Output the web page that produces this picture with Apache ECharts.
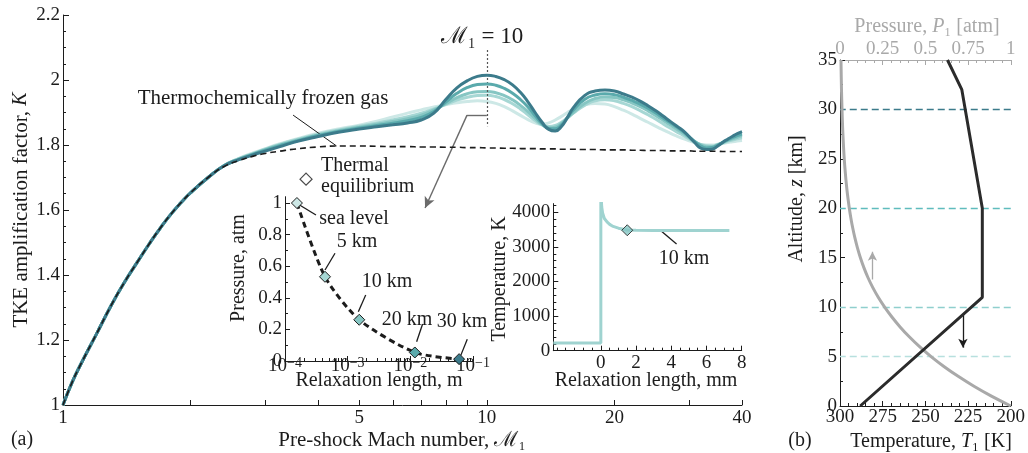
<!DOCTYPE html>
<html>
<head>
<meta charset="utf-8">
<script src="https://cdn.jsdelivr.net/npm/echarts@6/dist/echarts.min.js"></script>
<style>
  html, body { margin: 0; padding: 0; background: #ffffff; }
  #chart { width: 1028px; height: 453px; }
</style>
</head>
<body>
<div id="chart"></div>
<script>
// ---------- (a) TKE amplification factor vs pre-shock Mach number ----------
// Below M = 2.2 all altitudes share one curve with the frozen-gas result.
const MACH_LOW = [1, 1.05, 1.1, 1.2, 1.3, 1.4, 1.5, 1.6, 1.7, 1.8, 1.9, 2, 2.2];
const K_LOW    = [1.000, 1.069, 1.124, 1.219, 1.307, 1.380, 1.441, 1.497, 1.546, 1.588, 1.623, 1.653, 1.700];

const MACH_HIGH = [2.4, 2.6, 2.8, 3, 3.25, 3.5, 4, 4.5, 5, 5.5, 6, 6.5, 7, 7.5, 8, 8.5, 9, 9.5, 10,
                   10.5, 11, 11.5, 12, 12.5, 13, 13.5, 14, 14.5, 15, 15.5, 16,
                   17, 18, 19, 20, 21, 22, 23, 24, 25, 26, 27, 28, 29, 30, 31, 32, 33, 34, 35, 36, 37, 38, 39, 40];

const K_SEA_LEVEL = [1.737, 1.759, 1.775, 1.789, 1.804, 1.816,
  1.836, 1.850, 1.861, 1.873, 1.886, 1.898, 1.908, 1.917, 1.924, 1.930, 1.934, 1.936, 1.934,
  1.928, 1.918, 1.905, 1.891, 1.878, 1.868, 1.864, 1.868, 1.877, 1.888, 1.900, 1.910,
  1.923, 1.928, 1.926, 1.918, 1.907, 1.895, 1.882, 1.870, 1.858, 1.847, 1.837, 1.828, 1.820, 1.813,
  1.807, 1.802, 1.800, 1.800, 1.802, 1.805, 1.808, 1.810, 1.812, 1.814];
const K_5KM = [1.737, 1.758, 1.773, 1.787, 1.802, 1.814,
  1.833, 1.847, 1.858, 1.867, 1.877, 1.887, 1.898, 1.911, 1.925, 1.938, 1.947, 1.952, 1.953,
  1.949, 1.940, 1.927, 1.911, 1.893, 1.875, 1.862, 1.857, 1.860, 1.870, 1.884, 1.898,
  1.922, 1.936, 1.939, 1.936, 1.928, 1.918, 1.906, 1.893, 1.880, 1.866, 1.853, 1.841, 1.830, 1.819,
  1.809, 1.801, 1.798, 1.797, 1.801, 1.806, 1.811, 1.815, 1.819, 1.822];
const K_10KM = [1.737, 1.757, 1.772, 1.786, 1.800, 1.812,
  1.831, 1.845, 1.855, 1.864, 1.872, 1.881, 1.892, 1.908, 1.927, 1.946, 1.958, 1.964, 1.965,
  1.961, 1.952, 1.939, 1.922, 1.903, 1.882, 1.863, 1.853, 1.855, 1.866, 1.883, 1.900,
  1.928, 1.943, 1.948, 1.946, 1.939, 1.929, 1.918, 1.905, 1.891, 1.877, 1.863, 1.850, 1.837, 1.823,
  1.810, 1.800, 1.795, 1.795, 1.800, 1.807, 1.814, 1.819, 1.824, 1.828];
const K_20KM = [1.736, 1.756, 1.771, 1.784, 1.798, 1.810,
  1.829, 1.842, 1.852, 1.860, 1.867, 1.875, 1.885, 1.903, 1.932, 1.959, 1.977, 1.986, 1.988,
  1.984, 1.974, 1.959, 1.940, 1.917, 1.890, 1.866, 1.851, 1.850, 1.862, 1.885, 1.908,
  1.940, 1.954, 1.958, 1.955, 1.947, 1.937, 1.926, 1.913, 1.899, 1.884, 1.870, 1.856, 1.842, 1.826,
  1.810, 1.797, 1.791, 1.792, 1.799, 1.808, 1.816, 1.823, 1.829, 1.834];
const K_30KM = [1.736, 1.755, 1.769, 1.781, 1.795, 1.808,
  1.826, 1.840, 1.849, 1.856, 1.862, 1.868, 1.877, 1.898, 1.940, 1.976, 1.998, 2.011, 2.015,
  2.011, 2.001, 1.985, 1.962, 1.933, 1.900, 1.870, 1.848, 1.843, 1.857, 1.885, 1.915,
  1.952, 1.966, 1.969, 1.966, 1.957, 1.947, 1.935, 1.921, 1.906, 1.890, 1.874, 1.859, 1.845, 1.826,
  1.806, 1.790, 1.786, 1.787, 1.796, 1.808, 1.818, 1.827, 1.835, 1.841];
const K_FROZEN = [1.734, 1.752, 1.765, 1.774, 1.781, 1.787,
  1.794, 1.797, 1.797, 1.796, 1.795, 1.795, 1.794, 1.794, 1.793, 1.793, 1.792, 1.792, 1.791,
  1.791, 1.790, 1.790, 1.789, 1.789, 1.789, 1.788, 1.788, 1.788, 1.787, 1.787, 1.787,
  1.786, 1.786, 1.785, 1.785, 1.785, 1.784, 1.784, 1.783, 1.783, 1.783, 1.782, 1.782, 1.782, 1.782,
  1.781, 1.781, 1.781, 1.781, 1.781, 1.780, 1.780, 1.780, 1.780, 1.780];

const MACH_TICKS  = [1, 2, 3, 4, 5, 6, 7, 8, 9, 10, 20, 30, 40];
const MACH_LABELS = [1, 5, 10, 20, 40];
const K_TICK_STEP = 0.2;

// Thermal-equilibrium marker beside the curves
const EQ_LEGEND_MACH = [3.745];
const EQ_LEGEND_K = [1.695];

// ---------- inset: pressure vs relaxation length ----------
const ALTITUDE_NAMES = ['sea level', '5 km', '10 km', '20 km', '30 km'];
const RELAX_LENGTH_M = [1.55e-4, 4.35e-4, 1.53e-3, 1.18e-2, 6.0e-2];
const PRESSURE_AT_ALT = [1.0, 0.533, 0.261, 0.054, 0.0118];
const P_INSET_LABELS = [0, 0.2, 0.4, 0.6, 0.8, 1];
const P_INSET_MINOR = [0.1, 0.3, 0.5, 0.7, 0.9];
const LEN_LABELS = [1e-4, 1e-3, 1e-2, 1e-1];

// ---------- inset: temperature behind the shock (10 km) ----------
const RELAX_MM = [-2.7, 0, 0, 0.05, 0.1, 0.2, 0.35, 0.5, 0.7, 1.0, 1.5, 2, 3, 5, 7.3];
const TEMP_BEHIND_K = [223, 223, 4600, 4150, 3980, 3820, 3720, 3650, 3590, 3540, 3490, 3478, 3472, 3470, 3470];
const EQ_POINT_MM = [1.5];
const EQ_POINT_K = [3480];
const MM_LABELS = [0, 2, 4, 6, 8];
const T_INSET_LABELS = [0, 1000, 2000, 3000, 4000];

// ---------- (b) standard atmosphere ----------
const ALT_T_KM = [0, 11, 20, 32, 35];
const ATM_TEMP_K = [288.15, 216.65, 216.65, 228.65, 237.05];
const ALT_P_KM = [0, 1, 2, 3, 4, 5, 6, 7, 8, 9, 10, 11, 12, 13, 14, 15, 16, 17, 18, 19, 20, 22, 24, 26, 28, 30, 32, 35];
const ATM_PRESS = [1.0, 0.887, 0.7846, 0.692, 0.6085, 0.5334, 0.466, 0.4057, 0.3519, 0.304, 0.2615,
                   0.224, 0.1915, 0.1636, 0.1399, 0.1195, 0.1022, 0.0873, 0.0746, 0.0638, 0.0545,
                   0.0398, 0.0291, 0.0214, 0.0157, 0.0118, 0.0087, 0.0057];
const MARKED_ALT_KM = [5, 10, 20, 30];

// ---------- styling ----------
const SERIF = '"Liberation Serif", "DejaVu Serif", serif';
const INK = '#1c1c1c';
const GREY = '#a9a9a9';
const C_SEA = '#cde8e6', C_5 = '#a6d7d4', C_10 = '#86c6c3', C_20 = '#5aaaac', C_30 = '#3c7b8b';
const ALT_COLORS = [C_SEA, C_5, C_10, C_20, C_30];
const MARKED_ALT_COLORS = ['#b7e0de', '#8fcfcd', '#5fbcbd', '#3c7b8b'];
const C_T_INSET = '#9fd3d0';

const zip = (xs, ys) => xs.map((x, i) => [x, ys[i]]);
const MACH = MACH_LOW.concat(MACH_HIGH);
const withLow = high => zip(MACH, K_LOW.concat(high));

const SUP = { '-4': '\u22124', '-3': '\u22123', '-2': '\u22122', '-1': '\u22121' };
const powLabel = v => '10{s|' + SUP[String(Math.round(Math.log10(v)))] + '}';

const LEN_MINOR = [];
for (let e = -4; e < -1; e++) for (let k = 2; k <= 9; k++) LEN_MINOR.push(k * Math.pow(10, e));
const MM_MINOR = [];
for (let v = -2.5; v <= 7.5; v += 0.5) if (!MM_LABELS.includes(v)) MM_MINOR.push(v);
const T_MINOR = [];
for (let v = 200; v <= 4200; v += 200) if (v % 1000 !== 0) T_MINOR.push(v);

const labelFont = { color: INK, fontFamily: SERIF, fontSize: 19 };
const axisLineInk = { show: true, onZero: false, lineStyle: { color: INK, width: 1 } };
const noSplit = { show: false };

function minorOverlay(kind, base, values, extra) {
  return Object.assign({
    type: kind, gridIndex: base.gridIndex, min: base.min, max: base.max,
    axisLine: { show: false, onZero: false },
    axisLabel: { show: false },
    axisTick: { show: true, inside: true, length: 3, customValues: values, lineStyle: { color: INK } },
    splitLine: noSplit
  }, extra || {});
}

const altLines = (names, datas, colors) => names.map((n, i) => ({
  name: n, type: 'line', xAxisIndex: 0, yAxisIndex: 0, data: datas[i],
  showSymbol: false, smooth: 0.5, lineStyle: { color: colors[i], width: 3 }, z: 2 + i
}));

const inset1X = { type: 'log', logBase: 10, gridIndex: 1, min: 1e-4, max: 1e-1 };
const inset2X = { type: 'value', gridIndex: 2, min: -2.7, max: 8 };
const inset1Y = { type: 'value', gridIndex: 1, min: 0, max: 1.04 };
const inset2Y = { type: 'value', gridIndex: 2, min: 0, max: 4250 };

const text = (x, y, str, opt) => Object.assign({
  type: 'text', x: x, y: y, z: 100, silent: true,
  style: Object.assign({
    text: str, fontFamily: SERIF, fontSize: 20, fill: INK, align: 'center', verticalAlign: 'middle',
    rich: { i: { fontFamily: SERIF, fontSize: 20, fontStyle: 'italic', fill: (opt && opt.fill) || INK } }
  }, opt || {})
}, (opt && opt.rotation) ? { rotation: opt.rotation } : {});

const option = {
  animation: false,
  backgroundColor: '#ffffff',
  grid: [
    { left: 63, top: 15, width: 679, height: 390 },
    { left: 285, top: 196.7, width: 188, height: 164.3 },
    { left: 553.3, top: 203.6, width: 188.4, height: 147.1 },
    { left: 840, top: 60, width: 172, height: 346 }
  ],
  xAxis: [
    { // 0: Mach number
      type: 'log', logBase: 10, gridIndex: 0, min: 1, max: 40, position: 'bottom',
      axisLine: axisLineInk,
      axisTick: { show: true, inside: true, length: 5, customValues: MACH_TICKS, lineStyle: { color: INK } },
      axisLabel: Object.assign({ customValues: MACH_LABELS, formatter: v => String(Math.round(v)), margin: 4 }, labelFont),
      splitLine: noSplit, minorTick: { show: false }
    },
    Object.assign({}, inset1X, { // 1: relaxation length (m)
      position: 'bottom', axisLine: axisLineInk,
      axisTick: { show: true, inside: true, length: 5, customValues: LEN_LABELS, lineStyle: { color: INK } },
      axisLabel: Object.assign({
        customValues: LEN_LABELS, formatter: powLabel, margin: 5, verticalAlign: 'middle', lineHeight: 20,
        rich: { s: { fontFamily: SERIF, fontSize: 14, color: INK, verticalAlign: 'top', lineHeight: 20 } }
      }, labelFont),
      splitLine: noSplit
    }),
    minorOverlay('log', inset1X, LEN_MINOR, { logBase: 10, position: 'bottom' }), // 2
    Object.assign({}, inset2X, { // 3: relaxation length (mm)
      position: 'bottom', axisLine: axisLineInk,
      axisTick: { show: true, inside: true, length: 5, customValues: MM_LABELS, lineStyle: { color: INK } },
      axisLabel: Object.assign({ customValues: MM_LABELS, margin: 3 }, labelFont),
      splitLine: noSplit
    }),
    minorOverlay('value', inset2X, MM_MINOR, { position: 'bottom' }), // 4
    { // 5: temperature T1
      type: 'value', gridIndex: 3, min: 200, max: 300, interval: 25, inverse: true, position: 'bottom',
      axisLine: axisLineInk,
      axisTick: { show: true, inside: true, length: 5, lineStyle: { color: INK } },
      minorTick: { show: true, splitNumber: 5, length: 3, lineStyle: { color: INK } },
      axisLabel: Object.assign({ margin: 2 }, labelFont),
      splitLine: noSplit
    },
    { // 6: pressure P1
      type: 'value', gridIndex: 3, min: 0, max: 1, interval: 0.25, position: 'top',
      axisLine: { show: true, onZero: false, lineStyle: { color: GREY, width: 1 } },
      axisTick: { show: true, inside: true, length: 5, lineStyle: { color: GREY } },
      minorTick: { show: true, splitNumber: 5, length: 3, lineStyle: { color: GREY } },
      axisLabel: { margin: 1, color: GREY, fontFamily: SERIF, fontSize: 19 },
      splitLine: noSplit
    }
  ],
  yAxis: [
    { // 0: K
      type: 'value', gridIndex: 0, min: 1, max: 2.2, interval: K_TICK_STEP,
      axisLine: axisLineInk,
      axisTick: { show: true, inside: true, length: 6, lineStyle: { color: INK } },
      minorTick: { show: true, splitNumber: 4, length: 3, lineStyle: { color: INK } },
      axisLabel: Object.assign({ margin: 3 }, labelFont),
      splitLine: noSplit
    },
    Object.assign({}, inset1Y, { // 1: pressure, atm
      axisLine: axisLineInk,
      axisTick: { show: true, inside: true, length: 5, customValues: P_INSET_LABELS, lineStyle: { color: INK } },
      axisLabel: Object.assign({ customValues: P_INSET_LABELS, margin: 3 }, labelFont),
      splitLine: noSplit
    }),
    minorOverlay('value', inset1Y, P_INSET_MINOR, { position: 'left' }), // 2
    Object.assign({}, inset2Y, { // 3: temperature, K
      axisLine: axisLineInk,
      axisTick: { show: true, inside: true, length: 5, customValues: T_INSET_LABELS, lineStyle: { color: INK } },
      axisLabel: Object.assign({ customValues: T_INSET_LABELS, formatter: v => String(v), margin: 3 }, labelFont),
      splitLine: noSplit
    }),
    minorOverlay('value', inset2Y, T_MINOR, { position: 'left' }), // 4
    { // 5: altitude
      type: 'value', gridIndex: 3, min: 0, max: 35, interval: 5,
      axisLine: axisLineInk,
      axisTick: { show: true, inside: true, length: 5, lineStyle: { color: INK } },
      minorTick: { show: true, splitNumber: 2, length: 3, lineStyle: { color: INK } },
      axisLabel: Object.assign({ margin: 3 }, labelFont),
      splitLine: noSplit
    }
  ],
  series: [
    ...altLines(['sea level', '5 km', '10 km', '20 km', '30 km'],
                [withLow(K_SEA_LEVEL), withLow(K_5KM), withLow(K_10KM), withLow(K_20KM), withLow(K_30KM)],
                ALT_COLORS),
    {
      name: 'frozen', type: 'line', xAxisIndex: 0, yAxisIndex: 0, data: withLow(K_FROZEN),
      showSymbol: false, smooth: 0.5, z: 10,
      lineStyle: { color: INK, width: 1.6, type: [6, 4] },
      markLine: {
        silent: true, symbol: ['none', 'none'], label: { show: false }, animation: false,
        emphasis: { disabled: true },
        data: [
          [{ coord: [3.49, 1.892], lineStyle: { color: INK, width: 1, type: 'solid' } }, { coord: [4.42, 1.797] }],
          [{ coord: [10, 2.092], lineStyle: { color: '#555555', width: 1.2, type: [2, 2] } }, { coord: [10, 1.858] }],
          [{ coord: [10, 1.892], lineStyle: { color: '#6b6b6b', width: 1.4, type: 'solid' } }, { coord: [8.98, 1.892] }],
          [{ coord: [8.98, 1.892], lineStyle: { color: '#6b6b6b', width: 1.4, type: 'solid' } },
           { coord: [7.15, 1.606], symbol: 'arrow', symbolSize: [8, 11] }]
        ]
      }
    },
    {
      name: 'thermal equilibrium', type: 'scatter', xAxisIndex: 0, yAxisIndex: 0,
      data: zip(EQ_LEGEND_MACH, EQ_LEGEND_K), symbol: 'diamond', symbolSize: 12, z: 11,
      itemStyle: { color: '#ffffff', borderColor: INK, borderWidth: 1.2 }
    },
    {
      name: 'pressure vs length', type: 'line', xAxisIndex: 1, yAxisIndex: 1,
      data: RELAX_LENGTH_M.map((x, i) => ({ value: [x, PRESSURE_AT_ALT[i]], itemStyle: { color: ALT_COLORS[i] } })),
      smooth: 0.25, symbol: 'diamond', symbolSize: 11, showSymbol: true, z: 12,
      lineStyle: { color: INK, width: 3, type: [6, 4] },
      itemStyle: { borderColor: INK, borderWidth: 1 },
      markLine: {
        silent: true, symbol: ['none', 'none'], label: { show: false }, animation: false,
        emphasis: { disabled: true },
        lineStyle: { color: INK, width: 1.3, type: 'solid' },
        data: [
          [{ coord: [1.61e-4, 0.994] }, { coord: [3.12e-4, 0.924] }],
          [{ coord: [4.35e-4, 0.576] }, { coord: [6.28e-4, 0.682] }],
          [{ coord: [1.48e-3, 0.312] }, { coord: [1.94e-3, 0.418] }],
          [{ coord: [1.26e-2, 0.122] }, { coord: [1.57e-2, 0.234] }],
          [{ coord: [6.36e-2, 0.034] }, { coord: [8.1e-2, 0.137] }]
        ]
      }
    },
    {
      name: 'temperature behind shock', type: 'line', xAxisIndex: 3, yAxisIndex: 3,
      data: zip(RELAX_MM, TEMP_BEHIND_K), showSymbol: false, z: 12,
      lineStyle: { color: C_T_INSET, width: 3 },
      markLine: {
        silent: true, symbol: ['none', 'none'], label: { show: false }, animation: false,
        emphasis: { disabled: true },
        lineStyle: { color: INK, width: 1.3, type: 'solid' },
        data: [[{ coord: [3.36, 3488] }, { coord: [4.3, 3084] }]]
      }
    },
    {
      name: 'equilibrium point', type: 'scatter', xAxisIndex: 3, yAxisIndex: 3,
      data: zip(EQ_POINT_MM, EQ_POINT_K), symbol: 'diamond', symbolSize: 11, z: 13,
      itemStyle: { color: C_10, borderColor: INK, borderWidth: 1 }
    },
    {
      name: 'pressure profile', type: 'line', xAxisIndex: 6, yAxisIndex: 5,
      data: zip(ATM_PRESS, ALT_P_KM), showSymbol: false, smooth: 0.3, z: 5,
      lineStyle: { color: GREY, width: 3 },
      markLine: {
        silent: true, symbol: ['none', 'none'], label: { show: false }, animation: false,
        emphasis: { disabled: true },
        lineStyle: { color: GREY, width: 1.3, type: 'solid' },
        data: [[{ coord: [0.19, 12.8] }, { coord: [0.19, 15.6], symbol: 'arrow', symbolSize: [7, 9] }]]
      }
    },
    {
      name: 'temperature profile', type: 'line', xAxisIndex: 5, yAxisIndex: 5,
      data: zip(ATM_TEMP_K, ALT_T_KM), showSymbol: false, z: 6,
      lineStyle: { color: '#2b2b2b', width: 3 },
      markLine: {
        silent: true, symbol: ['none', 'none'], label: { show: false }, animation: false,
        emphasis: { disabled: true },
        data: MARKED_ALT_KM.map((z, i) => ({
          yAxis: z, lineStyle: { color: MARKED_ALT_COLORS[i], width: 1.3, type: [7, 4] }
        })).concat([
          [{ coord: [228, 9.25], lineStyle: { color: INK, width: 1.3, type: 'solid' } },
           { coord: [228, 5.9], symbol: 'arrow', symbolSize: [7, 9] }]
        ])
      }
    }
  ],
  graphic: [
    text(22, 440, '(a)'),
    text(800, 441, '(b)'),
    text(402, 440, 'Pre-shock Mach number, \u2133\u2081', { fontSize: 21 }),
    text(21, 210, 'TKE amplification factor, {i|K}', { rotation: Math.PI / 2, fontSize: 21 }),
    text(263, 98, 'Thermochemically frozen gas', { fontSize: 21 }),
    text(482, 37, '\u2133\u2081 = 10', { fontSize: 23 }),
    text(321, 166, 'Thermal', { align: 'left' }),
    text(321, 187, 'equilibrium', { align: 'left' }),
    text(239, 268, 'Pressure, atm', { rotation: Math.PI / 2 }),
    text(379, 381, 'Relaxation length, m'),
    text(354, 219, 'sea level'),
    text(357, 242, '5 km'),
    text(387, 282, '10 km'),
    text(407, 320, '20 km'),
    text(462, 322, '30 km'),
    text(500, 279, 'Temperature, K', { rotation: Math.PI / 2 }),
    text(646, 381, 'Relaxation length, mm'),
    text(684, 259, '10 km'),
    text(797, 199, 'Altitude, {i|z} [km]', { rotation: Math.PI / 2 }),
    text(931, 442, 'Temperature, {i|T}\u2081 [K]'),
    text(927, 27, 'Pressure, {i|P}\u2081 [atm]', { fill: GREY })
  ]
};

const chart = echarts.init(document.getElementById('chart'), null, { renderer: 'canvas' });
chart.setOption(option);
</script>
</body>
</html>
